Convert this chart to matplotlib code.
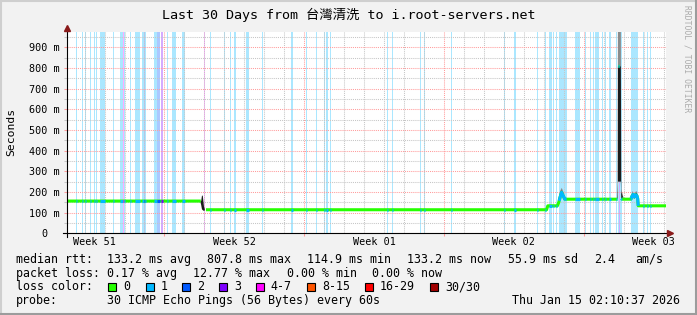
import numpy as np
import matplotlib.pyplot as plt
from matplotlib.patches import Rectangle
from matplotlib.lines import Line2D
from matplotlib.transforms import ScaledTranslation, blended_transform_factory

plt.rcParams['font.family'] = ['DejaVu Sans Mono', 'Noto Sans CJK TC']

W, H = 697, 315

# median rtt in ms, time in days from the left edge of the graph (nan = break)
t_med = [0.0, 6.70, 6.71, 6.90, 6.96, 24.02, 24.05, 24.08, 24.56, 24.63, 24.70, 24.77, 24.85,
         24.93, 27.57, 27.58, 27.62, 27.67, 27.68, 27.76, 27.80, 28.24, 28.30, 28.36, 28.42,
         28.48, 28.54, 28.58, 28.61, 30.0]
rtt_med = [156, 156, np.nan, np.nan, 114, 114, 124, 133, 133, 150, 176, 198, 182,
           165, 165, np.nan, 808, 808, np.nan, 168, 165, 165, 180, 188, 176,
           186, 182, 168, 133, 133]

# smoke (ping spread) around the median, only where it sticks out
smoke_t = [6.68, 6.72, 6.76, 6.80, 6.86, 6.90, 6.91,
           24.50, 24.56, 24.62, 24.70, 24.78, 24.86, 24.92, 24.97, 24.98,
           27.55, 27.58, 27.59, 27.74, 27.76, 27.80, 27.84, 27.88, 27.89,
           28.22, 28.28, 28.33, 28.40, 28.47, 28.52, 28.57, 28.60, 28.63]
smoke_lo = [152, 137, 116, 112, 108, 111, np.nan,
            131, 133, 145, 168, 188, 172, 162, 162, np.nan,
            162, 170, 250, 250, 165, 165, 163, 162, np.nan,
            162, 166, 175, 168, 172, 178, 168, 135, 131]
smoke_hi = [158, 156, 182, 182, 130, 117, np.nan,
            136, 140, 165, 195, 208, 192, 170, 168, np.nan,
            168, 255, 808, 808, 200, 190, 178, 168, np.nan,
            168, 182, 195, 182, 190, 196, 185, 165, 135]
smoke_top = [158, 156, 182, 182, 130, 117, np.nan,
             136, 140, 168, 205, 220, 200, 170, 168, np.nan,
             168, 255, 974, 974, 215, 200, 185, 168, np.nan,
             168, 190, 205, 188, 200, 205, 190, 168, 135]

# periods with packet loss: start day, end day, loss colour index
loss_start = [0.45, 0.75, 0.88, 1.13, 1.33, 1.45, 1.65, 2.28, 2.65, 2.82, 2.87, 3.15, 3.40, 3.76,
              3.88, 3.93, 4.36, 4.50, 4.71, 5.03, 5.28, 5.76, 6.84, 7.16, 7.85, 8.17, 8.36,
              8.96, 9.76, 11.22, 11.98, 12.47, 12.87, 12.99, 13.15, 16.02, 16.27, 17.68, 17.88,
              19.23, 21.91, 22.38, 23.54, 23.95, 24.15, 24.36, 24.51, 24.65, 25.46, 25.94,
              26.20, 26.33, 26.45, 26.81, 26.92, 27.15, 27.49, 27.60, 27.67, 27.72, 28.23,
              28.86, 29.03, 29.22]
loss_end = [0.50, 0.80, 0.93, 1.18, 1.38, 1.50, 1.90, 2.33, 2.82, 2.87, 2.90, 3.20, 3.66, 3.88,
            3.93, 3.96, 4.50, 4.66, 4.81, 5.08, 5.46, 5.93, 6.89, 7.21, 7.90, 8.22, 8.46,
            9.14, 9.84, 11.32, 12.03, 12.52, 12.94, 13.07, 13.20, 16.07, 16.32, 17.73, 17.93,
            19.28, 21.96, 22.48, 23.59, 24.00, 24.30, 24.41, 24.56, 25.02, 25.69, 25.99,
            26.25, 26.38, 26.62, 26.86, 26.97, 27.24, 27.54, 27.67, 27.72, 27.81, 28.61,
            28.91, 29.08, 29.27]
loss_level = [1, 1, 1, 1, 1, 1, 1, 1, 1, 4, 1, 1, 1, 1,
              2, 1, 1, 2, 3, 1, 1, 1, 4, 1, 1, 1, 1,
              1, 1, 1, 1, 1, 1, 1, 1, 1, 1, 1, 1,
              1, 1, 1, 1, 1, 1, 1, 1, 1, 1, 1,
              1, 1, 1, 1, 1, 1, 1, 1, 3, 1, 1,
              1, 1, 1]

loss_names = ['0', '1', '2', '3', '4-7', '8-15', '16-29', '30/30']
loss_colors = ['#26ff00', '#00b8ff', '#0059ff', '#7e00ff', '#ff00ff', '#ff5500', '#ff0000', '#a10000']

week_grid = [4.88, 11.88, 18.88, 25.88]
week_label_pos = [1.38, 8.38, 15.38, 22.38, 29.38]
week_names = ['Week 51', 'Week 52', 'Week 01', 'Week 02', 'Week 03']
y_ticks = [0, 100, 200, 300, 400, 500, 600, 700, 800, 900]
y_labels = ['0', '100 m', '200 m', '300 m', '400 m', '500 m', '600 m', '700 m', '800 m', '900 m']

t_med = np.array(t_med)
rtt_med = np.array(rtt_med, dtype=float)

fig = plt.figure(figsize=(W / 100, H / 100), dpi=100, facecolor='#f2f2f2')
ax = fig.add_axes([67 / W, 1 - 233.3 / H, 599 / W, 201.3 / H])
ax.set_facecolor('white')
ax.set_xlim(0, 30)
ax.set_ylim(0, 974)

# loss background bars
for s, e, lv in zip(loss_start, loss_end, loss_level):
    ax.axvspan(s, e, color=loss_colors[lv], alpha=0.33, lw=0, zorder=1, antialiased=False)

# grid
day_grid = [d for d in np.arange(0.88, 30, 1.0) if min(abs(d - w) for w in week_grid) > 0.1]
ax.set_xticks(week_grid)
ax.set_xticks(day_grid, minor=True)
ax.set_yticks(y_ticks, y_labels, fontsize=7.3)
ax.set_yticks(np.arange(50, 974, 100), minor=True)
ax.grid(which='major', color='#ff9c9c', ls=(0, (1, 1)), lw=0.75)
ax.grid(which='minor', color='#c6c6c6', ls=(0, (1, 1)), lw=0.75)
ax.tick_params(axis='x', which='major', length=2.2, width=0.75, color='#ff9c9c', labelbottom=False)
ax.tick_params(axis='x', which='minor', length=0)
ax.tick_params(axis='y', which='major', length=2.2, width=0.75, color='#ff9c9c', pad=2.9)
ax.tick_params(axis='y', which='minor', length=2.2, width=0.75, color='#c6c6c6')
ax.get_yticklabels()[0].set_transform(ax.get_yticklabels()[0].get_transform()
                                      + ScaledTranslation(-12.5 / 100, 0, fig.dpi_scale_trans))
for sp in ax.spines.values():
    sp.set_visible(False)

# smoke
ax.fill_between(smoke_t, smoke_hi, smoke_top, color='#8c8c8c', lw=0, zorder=2.5)
ax.fill_between(smoke_t, smoke_lo, smoke_hi, color='#1c1c1c', lw=0, zorder=2.6)

# median line, coloured by loss
ax.plot(t_med, rtt_med, color=loss_colors[0], lw=2.2, solid_capstyle='butt', zorder=3)
for s, e, lv in zip(loss_start, loss_end, loss_level):
    inside = (t_med > s) & (t_med < e)
    xs = np.concatenate([[s], t_med[inside], [e]])
    ys = np.concatenate([[np.interp(s, t_med, rtt_med)], rtt_med[inside], [np.interp(e, t_med, rtt_med)]])
    ax.plot(xs, ys, color=loss_colors[lv], lw=2.2, solid_capstyle='butt', zorder=3.1)

# axes with arrows
ax.plot([0, 0], [-0.02, 1.022], transform=ax.transAxes, color='black', lw=0.8, clip_on=False, zorder=5)
ax.plot([-0.006, 1.01], [0, 0], transform=ax.transAxes, color='black', lw=0.8, clip_on=False, zorder=5)
ax.plot(0, 1.018, marker='^', ms=4.5, color='#8a1a1a', transform=ax.transAxes, clip_on=False, zorder=6)
ax.plot(1.006, 0, marker='>', ms=4.5, color='#8a1a1a', transform=ax.transAxes, clip_on=False, zorder=6)

trans = blended_transform_factory(ax.transData, fig.transFigure)
for pos, name in zip(week_label_pos, week_names):
    ax.text(pos, 1 - 245 / H, name, transform=trans, ha='center', va='baseline', fontsize=7.3)


def ftext(x, y, s, **kw):
    fig.text(x / W, 1 - y / H, s, va='baseline', **kw)


ftext(348.5, 19, 'Last 30 Days from 台灣清洗 to i.root-servers.net', ha='center', fontsize=9.6)
fig.text(11 / W, 1 - 131.5 / H, 'Seconds', rotation=90, ha='center', va='center', fontsize=8.2)
fig.text(687 / W, 1 - 5 / H, 'RRDTOOL / TOBI OETIKER', rotation=270, ha='center', va='top',
         fontsize=5.8, color='#ababab')

legend_fs = 8.4
ftext(15.5, 262.7, 'median rtt:', fontsize=legend_fs)
for x, s in zip([107.3, 207.3, 307.3, 407.3, 507.5, 594, 635],
                ['133.2 ms avg', '807.8 ms max', '114.9 ms min', '133.2 ms now', '55.9 ms sd', '2.4', 'am/s']):
    ftext(x, 262.7, s, fontsize=legend_fs)
ftext(15.5, 276.7, 'packet loss:', fontsize=legend_fs)
for x, s in zip([107.3, 193.3, 286.7, 372.3], ['0.17 % avg', '12.77 % max', '0.00 % min', '0.00 % now']):
    ftext(x, 276.7, s, fontsize=legend_fs)
ftext(15.5, 290.3, 'loss color:', fontsize=legend_fs)
for x, name, c in zip([108.3, 145.7, 182.3, 219, 255.7, 307.3, 365, 430], loss_names, loss_colors):
    fig.add_artist(Rectangle((x / W, 1 - 291 / H), 8 / W, 8.5 / H, transform=fig.transFigure,
                             facecolor=c, edgecolor='black', lw=0.8))
    ftext(x + 15, 290.3, name, fontsize=legend_fs)
ftext(15.5, 304.3, 'probe:', fontsize=legend_fs)
ftext(107.3, 304.3, '30 ICMP Echo Pings (56 Bytes) every 60s', fontsize=legend_fs)
ftext(680, 304.3, 'Thu Jan 15 02:10:37 2026', ha='right', fontsize=legend_fs)

# frame around the image
fig.add_artist(Line2D([0, 1], [1 - 1 / H, 1 - 1 / H], transform=fig.transFigure, color='#cfcfcf', lw=1.5))
fig.add_artist(Line2D([1 / W, 1 / W], [0, 1], transform=fig.transFigure, color='#cfcfcf', lw=1.5))
fig.add_artist(Line2D([0, 1], [1 / H, 1 / H], transform=fig.transFigure, color='#9c9c9c', lw=1.5))
fig.add_artist(Line2D([1 - 1 / W, 1 - 1 / W], [0, 1], transform=fig.transFigure, color='#9c9c9c', lw=1.5))

fig.savefig('out.png', dpi=100, facecolor=fig.get_facecolor())
